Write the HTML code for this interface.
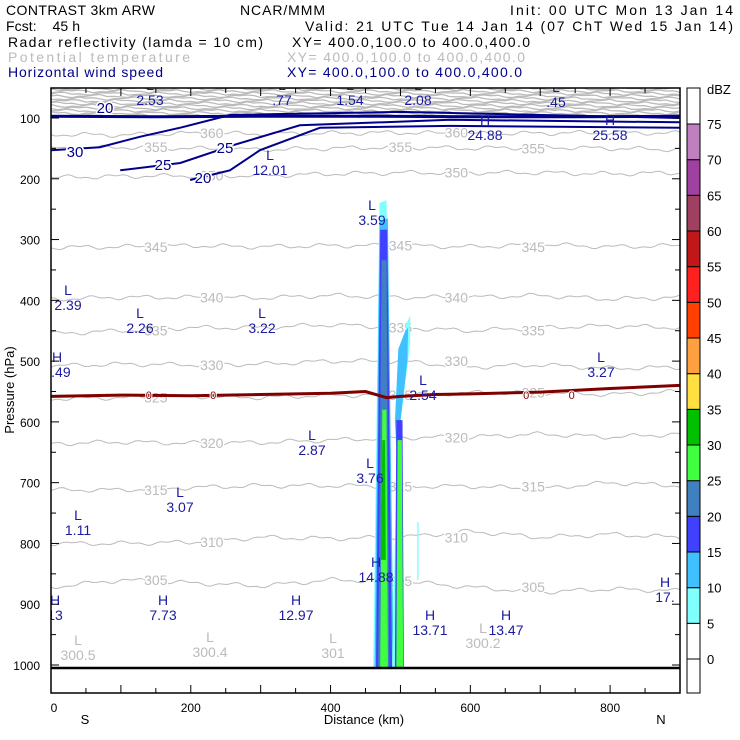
<!DOCTYPE html>
<html><head><meta charset="utf-8">
<style>
body{margin:0;background:#fff;}
svg{display:block;font-family:"Liberation Sans",sans-serif;}
</style></head><body>
<svg id="c" width="740" height="740" xmlns="http://www.w3.org/2000/svg">
<g font-size="14" lengthAdjust="spacingAndGlyphs">
<text x="6" y="15" fill="#000" textLength="149">CONTRAST  3km ARW</text>
<text x="240" y="15" fill="#000" textLength="85">NCAR/MMM</text>
<text x="510" y="15" fill="#000" textLength="223">Init: 00 UTC Mon 13 Jan 14</text>
<text x="6" y="31" fill="#000" textLength="74" xml:space="preserve">Fcst:    45 h</text>
<text x="305" y="31" fill="#000" textLength="428">Valid: 21 UTC Tue 14 Jan 14 (07 ChT Wed 15 Jan 14)</text>
<text x="8" y="47" fill="#000" textLength="255">Radar reflectivity (lamda = 10 cm)</text>
<text x="292" y="47" fill="#000" textLength="238">XY= 400.0,100.0 to 400.0,400.0</text>
<text x="8" y="62" fill="#bbb" textLength="182">Potential temperature</text>
<text x="287" y="62" fill="#bbb" textLength="238">XY= 400.0,100.0 to 400.0,400.0</text>
<text x="8" y="77" fill="#00008b" textLength="155">Horizontal wind speed</text>
<text x="287" y="77" fill="#00008b" textLength="235">XY= 400.0,100.0 to 400.0,400.0</text>
</g>
<g id="plot"></g>
<g id="cbar"></g>
</svg>
<script>
// ---- data ----
const xKm=[0,100,200,300,400,500,600,700,800,900];
const thetaLevels=[305,310,315,320,325,330,335,340,345,350,355,360];
const thetaP=[
[872,860,865,870,860,862,872,880,875,878],
[800,800,798,790,792,790,780,790,785,790],
[712,712,708,705,705,706,706,710,700,705],
[636,633,635,634,630,626,625,620,625,620],
[562,560,558,560,556,556,552,552,555,550],
[508,505,506,505,500,500,510,506,512,510],
[455,450,445,445,440,445,450,445,442,445],
[398,395,395,396,392,395,395,392,398,395],
[313,312,310,312,310,310,312,308,312,310],
[198,196,195,195,192,190,190,190,192,190],
[150,148,150,152,150,148,150,148,150,152],
[127,128,125,126,125,124,126,125,124,125]];
const topBandP=[52,56,60,64,68,72,76,80,84,88,92,96];
const freezeKm=[0,100,200,300,400,450,480,500,550,600,700,800,900];
const freezeP=[558,556,557,555,553,550,560,558,555,554,551,545,540];
const windLevels=[20,30,25,20];
const windKm=[[0,150,300,450,600,750,900],[0,70,127,185,256,499,900],[99,185,263,356,571,900],[199,256,299,385,571,900]];
const windP=[[97,98,97,97,98,98,97],[153,148,131,116,95,90,100],[186,174,144,112,103,107],[202,186,153,116,113,116]];
const colBounds=[0,5,10,15,20,25,30,35,40,45,50,55,60,65,70,75];
const colColors=["#ffffff","#80ffff","#40c0ff","#4040ff","#4080c0","#40ff40","#00c000","#ffe040","#ffa040","#ff4000","#ff2020","#c01818","#a04060","#a040a0","#c080c0"];
const reflX=[[461,470,480,491],[463,470,482,490],[465,471,481,488],[468,473,480,484],[471,474,480,482],[472,474,478,479],[488,496,508,514,514,500,493],[492,497,507,511,510,500,494],[492,494,503,505],[494,496,502,504],[524,526,526,524]];
const reflP=[[1005,240,235,1005],[1005,270,265,1005],[1005,284,284,1005],[1005,334,334,1005],[1005,580,580,1005],[827,630,630,827],[1005,600,440,425,470,600,1005],[600,480,450,445,500,600,640],[1005,597,597,1005],[1005,630,630,1005],[765,765,860,860]];
const reflCls=[1,2,3,4,5,6,1,2,3,5,1];
const labelsHL=[["L","2.53",150,90],["L",".77",282,90],["L","1.54",350,90],["L","2.08",418,90],["L",".45",556,92],["H","24.88",485,125],["H","25.58",610,125],["L","12.01",270,160],["L","3.59",372,210],["L","2.39",68,295],["L","2.26",140,318],["L","3.22",262,318],["H","3.49",57,362],["L","2.54",423,385],["L","3.27",601,362],["L","2.87",312,440],["L","3.76",370,468],["L","3.07",180,497],["L","1.11",78,520],["H","14.88",376,567],["H","13",55,605],["H","7.73",163,605],["H","12.97",296,605],["H","13.71",430,620],["H","13.47",506,620],["H","17.",665,587]];
const grayLabels=[["L","300.5",78,645],["L","300.4",210,642],["L","301",333,643],["L","300.2",483,633]];
// ---- axes ----
const X0=51,X1=680,Y0=88,Y1=693;
const sx=k=>X0+k*(X1-X0)/900;
const sy=p=>118+(p-100)*(665-118)/900;
const NS="http://www.w3.org/2000/svg";
function mk(t,a,parent){const e=document.createElementNS(NS,t);for(const k in a)e.setAttribute(k,a[k]);parent.appendChild(e);return e;}
const plot=document.getElementById('plot');
const cp=mk('clipPath',{id:'cp'},plot);
mk('rect',{x:X0,y:Y0,width:X1-X0,height:Y1-Y0},cp);
const g=mk('g',{'clip-path':'url(#cp)'},plot);


function wig(i,k){return 1.6*Math.sin(k*0.09+i*1.7)+1.0*Math.sin(k*0.23+i*0.6);}
// top dense band
topBandP.forEach((p,i)=>{let d='';for(let k=0;k<=900;k+=10){d+=(k?'L':'M')+sx(k).toFixed(1)+','+(sy(p)+0.7*wig(i,k)).toFixed(1);}
const e=mk('path',{d:d,fill:'none',stroke:'#bbb','stroke-width':1.3},g);

});
// theta
thetaLevels.forEach((lv,i)=>{let d='';for(let k=0;k<=900;k+=6){const j=Math.min(8,Math.floor(k/100));const f=(k-xKm[j])/100;const p=thetaP[i][j]*(1-f)+thetaP[i][j+1]*f;d+=(k?'L':'M')+sx(k).toFixed(1)+','+(sy(p)+wig(i,k)).toFixed(1);}
const e=mk('path',{d:d,fill:'none',stroke:'#bbb','stroke-width':1},g);


[150,230,500,580,690].forEach((k,n)=>{if((i+n)%2)return;const j=Math.min(8,Math.floor(k/100));const t=mk('text',{x:sx(k),y:sy(thetaP[i][j])+5,fill:'#bbb','font-size':14,'text-anchor':'middle',stroke:'#fff','stroke-width':3,'paint-order':'stroke'},g);t.textContent=lv;

});});
// reflectivity
reflX.forEach((xs,i)=>{const pts=xs.map((k,n)=>sx(k).toFixed(1)+','+sy(reflP[i][n]).toFixed(1)).join(' ');
const e=mk('polygon',{points:pts,fill:colColors[reflCls[i]]},g);

});
// wind
windLevels.forEach((lv,i)=>{let d='';windKm[i].forEach((k,j)=>{d+=(j?'L':'M')+sx(k).toFixed(1)+','+sy(windP[i][j]).toFixed(1);});
const e=mk('path',{d:d,fill:'none',stroke:'#00008b','stroke-width':i==0?3:2},g);

});
[["20",105,113],["30",75,157],["25",163,170],["25",225,153],["20",203,183]].forEach(a=>{const t=mk('text',{x:a[1],y:a[2],fill:'#00008b','font-size':15,'text-anchor':'middle',stroke:'#fff','stroke-width':3,'paint-order':'stroke'},g);t.textContent=a[0];

});
// freezing line
{let d='';freezeKm.forEach((k,j)=>{d+=(j?'L':'M')+sx(k).toFixed(1)+','+sy(freezeP[j]).toFixed(1);});
const e=mk('path',{d:d,fill:'none',stroke:'#800000','stroke-width':3},g);


[140,232,680,745].forEach(k=>{const t=mk('text',{x:sx(k),y:sy(556)+4,fill:'#800000','font-size':11,'text-anchor':'middle',stroke:'#fff','stroke-width':2,'paint-order':'stroke'},g);t.textContent='0';

});}
// ground
{const e=mk('line',{x1:X0,x2:X1,y1:sy(1005),y2:sy(1005),stroke:'#000','stroke-width':2.5},g);

}
// H/L labels
labelsHL.forEach(l=>{const t=mk('text',{x:l[2],y:l[3],fill:'#1a1aa0','font-size':14,'text-anchor':'middle'},g);t.textContent=l[0];


const v=mk('text',{x:l[2],y:l[3]+15,fill:'#1a1aa0','font-size':14,'text-anchor':'middle'},g);v.textContent=l[1];

});
grayLabels.forEach(l=>{const t=mk('text',{x:l[2],y:l[3],fill:'#bbb','font-size':14,'text-anchor':'middle'},g);t.textContent=l[0];


const v=mk('text',{x:l[2],y:l[3]+15,fill:'#bbb','font-size':14,'text-anchor':'middle'},g);v.textContent=l[1];

});
// frame + ticks
const fr=mk('rect',{x:X0,y:Y0,width:X1-X0,height:Y1-Y0,fill:'none',stroke:'#000','stroke-width':1.5},plot);


for(let k=0;k<=900;k+=50){const L=k%100?5:8;
mk('line',{x1:sx(k),x2:sx(k),y1:Y1,y2:Y1-L,stroke:'#000'},plot);mk('line',{x1:sx(k),x2:sx(k),y1:Y0,y2:Y0+L,stroke:'#000'},plot);
if(k%200==0&&k<900){const t=mk('text',{x:sx(k)+(k?0:3),y:712,'font-size':12,'text-anchor':'middle'},plot);t.textContent=k;

}}
for(let p=100;p<=1000;p+=100){mk('line',{x1:X0,x2:X0+8,y1:sy(p),y2:sy(p),stroke:'#000'},plot);mk('line',{x1:X1,x2:X1-8,y1:sy(p),y2:sy(p),stroke:'#000'},plot);
const t=mk('text',{x:40,y:sy(p)+5,'font-size':12,'text-anchor':'end'},plot);t.textContent=p;

}
for(let p=150;p<=1000;p+=100){mk('line',{x1:X0,x2:X0+5,y1:sy(p),y2:sy(p),stroke:'#000'},plot);mk('line',{x1:X1,x2:X1-5,y1:sy(p),y2:sy(p),stroke:'#000'},plot);}
[["S",85,724],["N",661,724],["Distance (km)",364,724]].forEach(a=>{const t=mk('text',{x:a[1],y:a[2],'font-size':13,'text-anchor':'middle'},plot);t.textContent=a[0];

});
{const t=mk('text',{x:0,y:0,'font-size':13,'text-anchor':'middle',transform:'translate(14,390) rotate(-90)'},plot);t.textContent='Pressure (hPa)';

}
// colorbar
const cb=document.getElementById('cbar');
const cy=v=>659-v*(659-124)/75;
mk('rect',{x:687,y:88,width:13,height:605,fill:'#fff',stroke:'#000'},cb);
colColors.forEach((c,i)=>{const r=mk('rect',{x:687,y:cy(colBounds[i+1]),width:13,height:cy(colBounds[i])-cy(colBounds[i+1]),fill:c,stroke:'#000'},cb);

});
colBounds.forEach(v=>{const t=mk('text',{x:707,y:cy(v)+5,'font-size':13},cb);t.textContent=v;

});
{const t=mk('text',{x:707,y:94,'font-size':13},cb);t.textContent='dBZ';

}
</script>
</body></html>
